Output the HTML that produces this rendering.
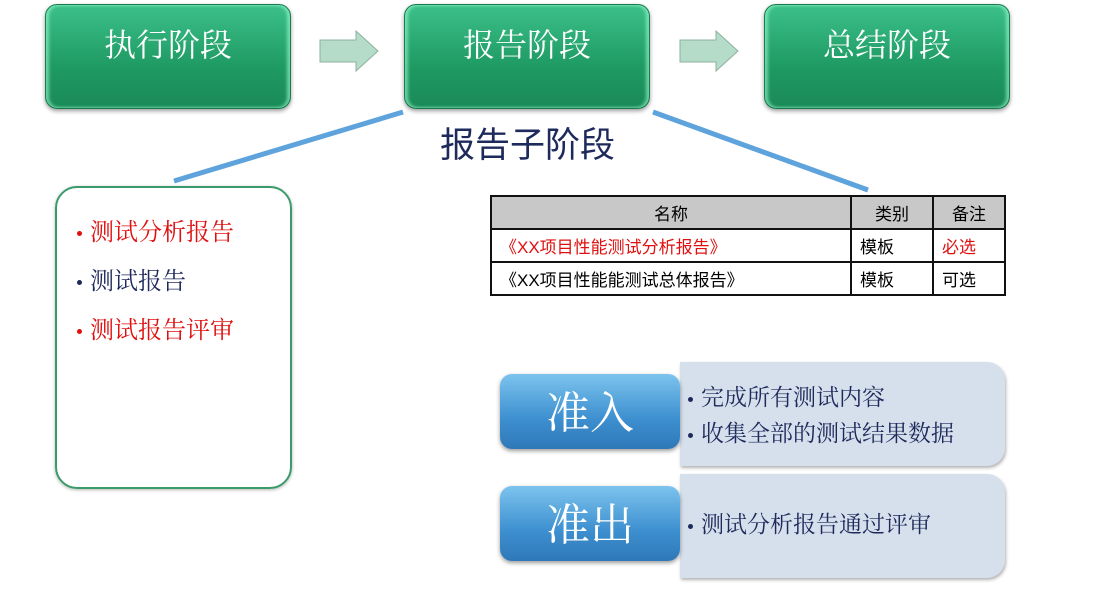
<!DOCTYPE html>
<html><head><meta charset="utf-8"><style>
body{margin:0;width:1098px;height:589px;background:#fff;position:relative;overflow:hidden;font-family:"Liberation Sans","Noto Sans CJK SC",sans-serif}
.g{position:absolute;top:4px;width:246px;height:105px;border-radius:12px;background:linear-gradient(#3cc08a,#1f9a63 60%,#1a8a58);box-shadow:0 2px 4px rgba(0,0,0,.4), inset 3px 0 3px rgba(160,255,210,.6), inset -3px 0 3px rgba(160,255,210,.6);color:#fff;font-family:"Noto Serif CJK SC",serif;font-size:32px;text-align:center;line-height:76px;box-sizing:border-box;border:1px solid #1a7a50}
.ar{position:absolute;top:30px}
table{position:absolute;left:490px;top:195px;border-collapse:collapse;font-size:17px}
td{border:2px solid #111;height:31px;padding:0 8px}
.blue{position:absolute;left:500px;width:180px;height:75px;border-radius:12px;background:linear-gradient(#7cc4ee,#3d8fcf 60%,#2f78b8);box-shadow:0 2px 4px rgba(0,0,0,.4);color:#fff;font-family:"Noto Serif CJK SC",serif;font-size:44px;text-align:center;line-height:70px}
.pan{position:absolute;left:680px;width:325px;height:104px;background:#d6e0ec;border-radius:0 18px 18px 0;box-shadow:1px 2px 3px rgba(0,0,0,.3);font-family:"Noto Serif CJK SC",serif;color:#1f2a5c;font-size:23px;box-sizing:border-box;padding-left:8px}
.b{display:inline-block;width:5px;height:5px;border-radius:50%;background:#1f2a5c;vertical-align:middle;margin-right:8px}
</style></head><body>
<div class="g" style="left:45px">执行阶段</div>
<div class="g" style="left:404px">报告阶段</div>
<div class="g" style="left:764px">总结阶段</div>
<svg class="ar" style="left:318px" width="62" height="42"><polygon points="2,10 38,10 38,1 60,21 38,41 38,32 2,32" fill="#b5dcc8" stroke="#8fb0a0"/></svg>
<svg class="ar" style="left:678px" width="62" height="42"><polygon points="2,10 38,10 38,1 60,21 38,41 38,32 2,32" fill="#b5dcc8" stroke="#8fb0a0"/></svg>
<svg style="position:absolute;left:0;top:0" width="1098" height="589"><line x1="174" y1="181" x2="403" y2="112" stroke="#5ea3dc" stroke-width="5"/><line x1="653" y1="112" x2="868" y2="190" stroke="#5ea3dc" stroke-width="5"/></svg>
<div style="position:absolute;left:440px;top:117px;font-family:'Noto Sans CJK SC',sans-serif;font-size:35px;color:#1f2a5c">报告子阶段</div>
<div style="position:absolute;left:55px;top:186px;width:237px;height:303px;border:2px solid #3a9a6a;border-radius:22px;box-sizing:border-box;box-shadow:0 1px 3px rgba(0,0,0,.3);font-family:'Noto Serif CJK SC',serif;font-size:24px">
<div style="position:absolute;left:20px;top:24px;color:#e01010"><span class="b" style="background:#e01010"></span>测试分析报告</div>
<div style="position:absolute;left:20px;top:73px;color:#1f2a5c"><span class="b"></span>测试报告</div>
<div style="position:absolute;left:20px;top:122px;color:#e01010"><span class="b" style="background:#e01010"></span>测试报告评审</div>
</div>
<table>
<tr style="background:#c8c8c8"><td style="width:342px;text-align:center">名称</td><td style="width:64px;text-align:center">类别</td><td style="width:54px;text-align:center">备注</td></tr>
<tr><td style="color:#e01010">《XX项目性能测试分析报告》</td><td>模板</td><td style="color:#e01010">必选</td></tr>
<tr><td>《XX项目性能能测试总体报告》</td><td>模板</td><td>可选</td></tr>
</table>
<div class="pan" style="top:362px;padding-top:16px;line-height:36px"><span class="b"></span>完成所有测试内容<br><span class="b"></span>收集全部的测试结果数据</div>
<div class="pan" style="top:474px;padding-top:32px"><span class="b"></span>测试分析报告通过评审</div>
<div class="blue" style="top:374px">准入</div>
<div class="blue" style="top:486px">准出</div>
</body></html>
